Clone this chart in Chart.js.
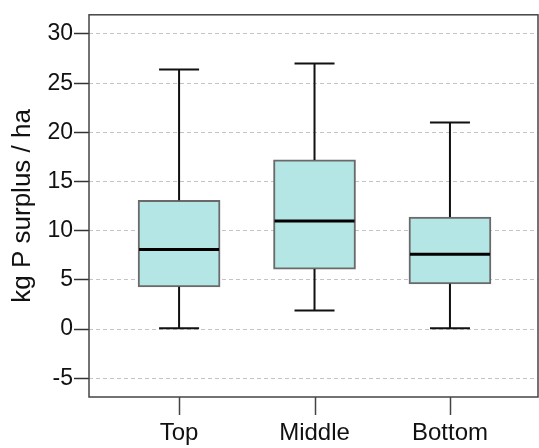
<!DOCTYPE html>
<html>
<head>
<meta charset="utf-8">
<script src="https://cdn.jsdelivr.net/npm/chart.js@4.4.0/dist/chart.umd.min.js"></script>
<style>body{margin:0;background:#fff}</style>
</head>
<body>
<canvas id="myChart" width="539" height="448"></canvas>
<script>
// Labels
let positions = ['Top', 'Middle', 'Bottom'];
let yTicks = [-5, 0, 5, 10, 15, 20, 25, 30];

// Box plot stats, kg P surplus / ha
let whiskerLow  = [ 0.1,  1.9,  0.1];
let q1          = [ 4.3,  6.1,  4.6];
let median      = [ 8.1, 11.0,  7.6];
let q3          = [13.1, 17.2, 11.4];
let whiskerHigh = [26.4, 27.0, 21.0];

// whiskers, caps, medians, x tick marks and the frame
const boxExtras = {
    id: 'boxExtras',
    afterDatasetsDraw(chart) {
        const {ctx, scales: {x, y}} = chart;
        ctx.save();
        positions.forEach((p, i) => {
            const cx = x.getPixelForValue(i + 1);
            ctx.strokeStyle = '#111';
            ctx.lineWidth = 2;
            ctx.beginPath();
            ctx.moveTo(cx, y.getPixelForValue(q3[i]));
            ctx.lineTo(cx, y.getPixelForValue(whiskerHigh[i]));
            ctx.moveTo(cx - 20, y.getPixelForValue(whiskerHigh[i]));
            ctx.lineTo(cx + 20, y.getPixelForValue(whiskerHigh[i]));
            ctx.moveTo(cx, y.getPixelForValue(q1[i]));
            ctx.lineTo(cx, y.getPixelForValue(whiskerLow[i]));
            ctx.moveTo(cx - 20, y.getPixelForValue(whiskerLow[i]));
            ctx.lineTo(cx + 20, y.getPixelForValue(whiskerLow[i]));
            ctx.stroke();
            ctx.lineWidth = 3;
            ctx.strokeStyle = '#000';
            ctx.beginPath();
            ctx.moveTo(cx - 40, y.getPixelForValue(median[i]));
            ctx.lineTo(cx + 40, y.getPixelForValue(median[i]));
            ctx.stroke();
        });
        ctx.restore();
    },
    afterDraw(chart) {
        const {ctx, chartArea: a, scales: {x}} = chart;
        ctx.save();
        ctx.strokeStyle = '#444';
        ctx.lineWidth = 1.5;
        ctx.beginPath();
        positions.forEach((p, i) => {
            const cx = Math.round(x.getPixelForValue(i + 1)) + 0.5;
            ctx.moveTo(cx, a.bottom);
            ctx.lineTo(cx, a.bottom + 18);
        });
        ctx.stroke();
        ctx.strokeRect(a.left, a.top, a.right - a.left, a.bottom - a.top);
        ctx.restore();
    }
};

let ctx = document.getElementById('myChart').getContext('2d');
let myChart = new Chart(ctx, {
    type: 'bar',
    data: {
        datasets: [
            {
                data: positions.map((p, i) => ({x: i + 1, y: [q1[i], q3[i]]})),
                backgroundColor: '#b4e6e6',
                borderColor: '#6a6a6a',
                borderWidth: 2,
                borderSkipped: false,
                barThickness: 82
            }
        ]
    },
    options: {
        responsive: false,
        animation: false,
        layout: {padding: {top: 9, right: 1}},
        plugins: {legend: {display: false}, tooltip: {enabled: false}},
        scales: {
            x: {
                type: 'linear',
                offset: false,
                min: 0.335,
                max: 3.65,
                afterBuildTicks: axis => { axis.ticks = positions.map((p, i) => ({value: i + 1})); },
                afterFit: axis => { axis.height = 51; },
                ticks: {
                    callback: (v, i) => positions[i],
                    color: '#111',
                    padding: 4,
                    font: {family: 'Liberation Sans', size: 24}
                },
                grid: {offset: false, drawOnChartArea: false, tickLength: 18, tickColor: 'rgba(0,0,0,0)'},
                border: {display: false}
            },
            y: {
                min: -6.9,
                max: 31.95,
                afterBuildTicks: axis => { axis.ticks = yTicks.map(v => ({value: v})); },
                afterFit: axis => { axis.width = 89; },
                ticks: {
                    color: '#111',
                    padding: 1,
                    font: {family: 'Liberation Sans', size: 23}
                },
                grid: {color: '#c4c4c4', lineWidth: 1, tickLength: 15, tickColor: '#333', tickWidth: 1.5, tickBorderDash: []},
                border: {display: false, dash: [4, 3]},
                title: {
                    display: true,
                    text: 'kg P surplus / ha',
                    color: '#111',
                    padding: {top: 7, bottom: 0},
                    font: {family: 'Liberation Sans', size: 26}
                }
            }
        }
    },
    plugins: [boxExtras]
});
</script>
</body>
</html>
